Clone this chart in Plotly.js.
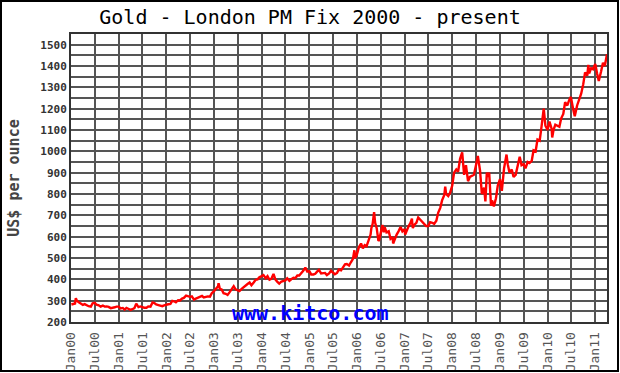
<!DOCTYPE html>
<html>
<head>
<meta charset="utf-8">
<script src="https://cdn.plot.ly/plotly-3.0.1.min.js"></script>
<style>
html,body{margin:0;padding:0;background:#fff;}
#chart{position:absolute;left:0;top:0;width:620px;height:373px;}
#frame{position:absolute;left:0;top:0;width:615px;height:368px;border:2px solid #000;pointer-events:none;}
</style>
</head>
<body>
<div id="chart"></div>
<div id="frame"></div>
<script>
// Gold London PM fix (US$/oz) (approx. semi-monthly)
const dates = [
"2000-01-04","2000-01-15","2000-02-01","2000-02-07","2000-02-15","2000-03-01","2000-03-15","2000-04-01","2000-04-15","2000-05-01","2000-05-15","2000-06-01","2000-06-15","2000-07-01","2000-07-15","2000-08-01","2000-08-15","2000-09-01","2000-09-15","2000-10-01","2000-10-15","2000-11-01","2000-11-15","2000-12-01","2000-12-15",
"2001-01-01","2001-01-15","2001-02-01","2001-02-15","2001-03-01","2001-03-15","2001-04-01","2001-04-15","2001-05-01","2001-05-15","2001-06-01","2001-06-15","2001-07-01","2001-07-15","2001-08-01","2001-08-15","2001-09-01","2001-09-17","2001-10-01","2001-10-15","2001-11-01","2001-11-15","2001-12-01","2001-12-15",
"2002-01-01","2002-01-15","2002-02-01","2002-02-15","2002-03-01","2002-03-15","2002-04-01","2002-04-15","2002-05-01","2002-05-15","2002-06-01","2002-06-15","2002-07-01","2002-07-15","2002-08-01","2002-08-15","2002-09-01","2002-09-15","2002-10-01","2002-10-15","2002-11-01","2002-11-15","2002-12-01","2002-12-15",
"2003-01-01","2003-01-15","2003-02-01","2003-02-05","2003-02-15","2003-03-01","2003-03-15","2003-04-01","2003-04-15","2003-05-01","2003-05-15","2003-06-01","2003-06-15","2003-07-01","2003-07-15","2003-08-01","2003-08-15","2003-09-01","2003-09-15","2003-10-01","2003-10-15","2003-11-01","2003-11-15","2003-12-01","2003-12-15",
"2004-01-01","2004-01-15","2004-02-01","2004-02-15","2004-03-01","2004-03-15","2004-04-01","2004-04-15","2004-05-01","2004-05-15","2004-06-01","2004-06-15","2004-07-01","2004-07-15","2004-08-01","2004-08-15","2004-09-01","2004-09-15","2004-10-01","2004-10-15","2004-11-01","2004-11-15","2004-12-01","2004-12-15",
"2005-01-01","2005-01-15","2005-02-01","2005-02-15","2005-03-01","2005-03-15","2005-04-01","2005-04-15","2005-05-01","2005-05-15","2005-06-01","2005-06-15","2005-07-01","2005-07-15","2005-08-01","2005-08-15","2005-09-01","2005-09-15","2005-10-01","2005-10-15","2005-11-01","2005-11-15","2005-12-01","2005-12-12","2005-12-20",
"2006-01-01","2006-01-15","2006-02-01","2006-02-15","2006-03-01","2006-03-15","2006-04-01","2006-04-15","2006-04-21","2006-05-01","2006-05-12","2006-05-20","2006-06-01","2006-06-14","2006-06-20","2006-07-01","2006-07-15","2006-07-25","2006-08-01","2006-08-15","2006-09-01","2006-09-15","2006-10-01","2006-10-05","2006-10-15","2006-11-01","2006-11-15","2006-12-01","2006-12-15",
"2007-01-01","2007-01-05","2007-01-15","2007-02-01","2007-02-15","2007-02-26","2007-03-01","2007-03-05","2007-03-15","2007-04-01","2007-04-15","2007-05-01","2007-05-15","2007-06-01","2007-06-15","2007-07-01","2007-07-15","2007-08-01","2007-08-15","2007-09-01","2007-09-15","2007-10-01","2007-10-15","2007-11-01","2007-11-08","2007-11-15","2007-12-01","2007-12-15",
"2008-01-01","2008-01-15","2008-02-01","2008-02-15","2008-03-01","2008-03-17","2008-03-25","2008-04-01","2008-04-15","2008-05-01","2008-05-15","2008-06-01","2008-06-15","2008-07-01","2008-07-15","2008-08-01","2008-08-15","2008-09-01","2008-09-11","2008-09-22","2008-10-01","2008-10-10","2008-10-24","2008-11-01","2008-11-15","2008-12-01","2008-12-15",
"2009-01-01","2009-01-15","2009-02-01","2009-02-20","2009-03-01","2009-03-15","2009-04-01","2009-04-15","2009-05-01","2009-05-15","2009-06-01","2009-06-15","2009-07-01","2009-07-15","2009-08-01","2009-08-15","2009-09-01","2009-09-15","2009-10-01","2009-10-15","2009-11-01","2009-11-15","2009-12-02","2009-12-15",
"2010-01-01","2010-01-15","2010-02-01","2010-02-05","2010-02-15","2010-03-01","2010-03-15","2010-04-01","2010-04-15","2010-05-01","2010-05-15","2010-06-01","2010-06-15","2010-06-28","2010-07-15","2010-07-28","2010-08-15","2010-09-01","2010-09-15","2010-10-01","2010-10-15","2010-11-01","2010-11-09","2010-11-15","2010-12-01","2010-12-15",
"2011-01-01","2011-01-15","2011-01-28","2011-02-15","2011-03-01","2011-03-15","2011-03-25","2011-04-01"
];
const prices = [
282,285,287,312,300,292,287,280,284,277,274,272,288,290,281,278,272,277,272,273,271,265,266,269,272,
272,264,266,258,266,262,257,260,265,286,270,273,268,267,267,273,272,292,289,282,279,275,274,278,
279,283,285,299,297,292,302,301,310,313,324,322,318,320,305,310,315,321,322,315,318,320,319,335,
345,355,368,382,355,352,335,332,327,340,355,368,353,347,345,355,362,375,378,385,372,385,397,400,410,
415,420,405,415,398,402,425,400,388,380,390,393,395,405,393,400,407,405,418,418,428,440,455,437,
438,423,423,426,436,444,428,428,430,420,428,440,430,424,430,446,442,456,470,472,465,480,496,536,500,
518,550,568,545,560,555,585,610,640,660,715,665,640,580,585,615,655,620,645,620,625,590,598,568,585,610,625,645,625,
635,610,628,650,665,685,660,640,655,665,690,680,668,660,650,650,668,665,660,675,712,735,770,795,835,800,790,805,
840,900,915,905,965,995,935,890,935,860,880,885,890,935,978,910,800,830,765,900,880,900,745,770,742,780,840,
870,815,920,985,940,900,915,880,890,930,975,935,940,920,950,945,955,1005,1000,1055,1050,1115,1200,1120,
1100,1140,1105,1065,1100,1125,1120,1115,1155,1175,1230,1215,1240,1255,1200,1165,1215,1245,1270,1315,1370,1355,1405,1365,1390,1385,
1410,1365,1330,1375,1415,1400,1435,1455
];
const yTickVals = [200,250,300,350,400,450,500,550,600,650,700,750,800,850,900,950,1000,1050,1100,1150,1200,1250,1300,1350,1400,1450,1500,1550];
const yTickText = ["200","","300","","400","","500","","600","","700","","800","","900","","1000","","1100","","1200","","1300","","1400","","1500",""];
const xTickVals = ["2000-01-01","2000-07-01","2001-01-01","2001-07-01","2002-01-01","2002-07-01","2003-01-01","2003-07-01","2004-01-01","2004-07-01","2005-01-01","2005-07-01","2006-01-01","2006-07-01","2007-01-01","2007-07-01","2008-01-01","2008-07-01","2009-01-01","2009-07-01","2010-01-01","2010-07-01","2011-01-01"];
const xTickText = ["Jan00","Jul00","Jan01","Jul01","Jan02","Jul02","Jan03","Jul03","Jan04","Jul04","Jan05","Jul05","Jan06","Jul06","Jan07","Jul07","Jan08","Jul08","Jan09","Jul09","Jan10","Jul10","Jan11"];

const trace = {
  x: dates, y: prices, type: 'scatter', mode: 'lines',
  line: {color: '#ff0000', width: 2.4},
  hoverinfo: 'skip'
};
const mono = 'DejaVu Sans Mono, monospace';
const layout = {
  width: 620, height: 373,
  margin: {l: 71, r: 13, t: 34, b: 51},
  paper_bgcolor: '#ffffff', plot_bgcolor: '#ffffff',
  showlegend: false,
  title: {
    text: 'Gold - London PM Fix 2000 - present',
    font: {family: mono, size: 20, color: '#000'},
    xref: 'container', x: 0.5, xanchor: 'center',
    yref: 'container', y: 0.955, yanchor: 'middle'
  },
  xaxis: {
    type: 'date', range: ['2000-01-01', '2011-04-01'],
    tickmode: 'array', tickvals: xTickVals, ticktext: xTickText,
    tickangle: -90, ticks: 'outside', ticklen: 3, tickcolor: '#fff',
    tickfont: {family: mono, size: 13, color: '#555'},
    showgrid: true, gridcolor: '#555', gridwidth: 2,
    showline: true, linecolor: '#333', linewidth: 2, mirror: true,
    zeroline: false, fixedrange: true
  },
  yaxis: {
    range: [200, 1550],
    tickmode: 'array', tickvals: yTickVals, ticktext: yTickText,
    ticks: '', ticklen: 0,
    tickfont: {family: mono, size: 11, color: '#333', weight: 'bold'},
    showgrid: true, gridcolor: '#555', gridwidth: 2,
    showline: true, linecolor: '#333', linewidth: 2, mirror: true,
    zeroline: false, fixedrange: true,
    title: {text: 'US$ per ounce', font: {family: mono, size: 15, color: '#444', weight: 'bold'}, standoff: 17}
  },
  annotations: [{
    text: 'www.kitco.com', xref: 'paper', yref: 'paper',
    x: 0.446, y: 0.031, xanchor: 'center', yanchor: 'middle', showarrow: false,
    font: {family: mono, size: 20, color: '#0000ff', weight: 'bold'}
  }]
};
Plotly.newPlot('chart', [trace], layout, {staticPlot: true, displayModeBar: false});
</script>
</body>
</html>
